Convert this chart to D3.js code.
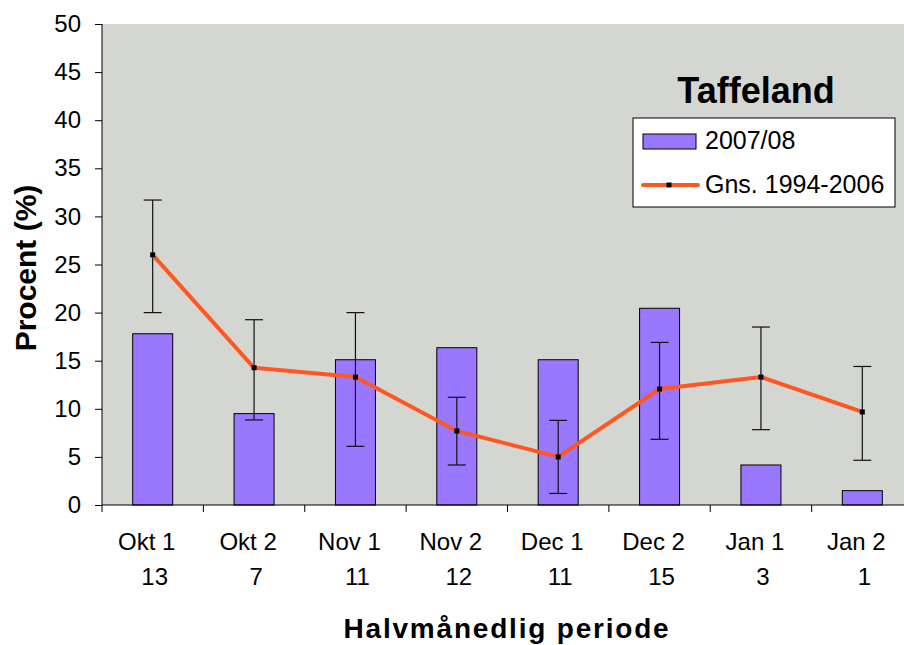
<!DOCTYPE html>
<html>
<head>
<meta charset="utf-8">
<script src="https://cdn.jsdelivr.net/npm/d3@7"></script>
<style>
  body { margin: 0; background: #fff; }
  text { font-family: "Liberation Sans", Arial, sans-serif; }
</style>
</head>
<body>
<div id="chart"></div>
<script>
// data
var periods = ["Okt 1", "Okt 2", "Nov 1", "Nov 2", "Dec 1", "Dec 2", "Jan 1", "Jan 2"];
var counts = [13, 7, 11, 12, 11, 15, 3, 1];
var season = [17.8, 9.5, 15.1, 16.35, 15.1, 20.45, 4.16, 1.49];
var avg = [26.0, 14.27, 13.3, 7.7, 5.0, 12.06, 13.3, 9.67];
var errHigh = [31.7, 19.26, 20.0, 11.2, 8.8, 16.9, 18.5, 14.4];
var errLow = [20.0, 8.84, 6.1, 4.16, 1.2, 6.83, 7.83, 4.65];
var yTicks = [0, 5, 10, 15, 20, 25, 30, 35, 40, 45, 50];

var chart_width = 904;
var chart_height = 645;
var plotL = 102, plotT = 24, plotR = 913, plotB = 505;

var svg = d3.select('#chart')
            .append('svg')
            .attr('width', chart_width)
            .attr('height', chart_height);

var x = d3.scaleBand().domain(periods).range([plotL, plotR]);
var y = d3.scaleLinear().domain([0, 50]).range([plotB, plotT]);

// plot background
svg.append('rect')
   .attr('x', plotL).attr('y', plotT)
   .attr('width', plotR - plotL).attr('height', plotB - plotT)
   .attr('fill', '#d4d6d1');

// bars
var barW = 40;
svg.selectAll('rect.bar')
   .data(season)
   .enter()
   .append('rect')
   .attr('class', 'bar')
   .attr('x', function(d, i){ return x(periods[i]) + x.bandwidth() / 2 - barW / 2; })
   .attr('y', function(d){ return y(d); })
   .attr('width', barW)
   .attr('height', function(d){ return plotB - y(d); })
   .attr('fill', '#9977ff')
   .attr('stroke', '#000')
   .attr('stroke-width', 1);

// y axis
var yAxis = svg.append('g')
   .attr('transform', 'translate(' + plotL + ',0)')
   .call(d3.axisLeft(y).tickValues(yTicks).tickSize(7).tickPadding(14));
yAxis.selectAll('text').style('font-size', '24px').attr('fill', '#000')
     .style('font-family', '"Liberation Sans", Arial, sans-serif');
yAxis.select('.domain').attr('d', 'M0,' + plotT + 'V' + plotB);

// x axis
var xAxis = svg.append('g')
   .attr('transform', 'translate(0,' + plotB + ')');
xAxis.append('line').attr('x1', plotL).attr('x2', plotR).attr('stroke', '#000');
var edges = periods.map(function(p){ return x(p); });
xAxis.selectAll('line.tick')
   .data(edges)
   .enter()
   .append('line')
   .attr('x1', function(d){ return d; })
   .attr('x2', function(d){ return d; })
   .attr('y1', 0).attr('y2', 7)
   .attr('stroke', '#000');

svg.selectAll('text.per')
   .data(periods)
   .enter()
   .append('text')
   .attr('x', function(d){ return x(d) + x.bandwidth() / 2 - 6; })
   .attr('y', 550)
   .attr('text-anchor', 'middle')
   .style('font-size', '24px')
   .text(function(d){ return d; });

svg.selectAll('text.cnt')
   .data(counts)
   .enter()
   .append('text')
   .attr('x', function(d, i){ return x(periods[i]) + x.bandwidth() / 2 + 2; })
   .attr('y', 585)
   .attr('text-anchor', 'middle')
   .style('font-size', '24px')
   .text(function(d){ return d; });

// error bars
var cx = function(i){ return x(periods[i]) + x.bandwidth() / 2; };
var eb = svg.selectAll('g.err')
   .data(avg)
   .enter()
   .append('g')
   .attr('stroke', '#111')
   .attr('stroke-width', 1.2);
eb.append('line')
  .attr('x1', function(d, i){ return cx(i); })
  .attr('x2', function(d, i){ return cx(i); })
  .attr('y1', function(d, i){ return y(errHigh[i]); })
  .attr('y2', function(d, i){ return y(errLow[i]); });
eb.append('line')
  .attr('x1', function(d, i){ return cx(i) - 9; })
  .attr('x2', function(d, i){ return cx(i) + 9; })
  .attr('y1', function(d, i){ return y(errHigh[i]); })
  .attr('y2', function(d, i){ return y(errHigh[i]); });
eb.append('line')
  .attr('x1', function(d, i){ return cx(i) - 9; })
  .attr('x2', function(d, i){ return cx(i) + 9; })
  .attr('y1', function(d, i){ return y(errLow[i]); })
  .attr('y2', function(d, i){ return y(errLow[i]); });

// average line
var line = d3.line()
   .x(function(d, i){ return cx(i); })
   .y(function(d){ return y(d); });
svg.append('path')
   .datum(avg)
   .attr('d', line)
   .attr('fill', 'none')
   .attr('stroke', '#ff5722')
   .attr('stroke-width', 4);
svg.selectAll('rect.mark')
   .data(avg)
   .enter()
   .append('rect')
   .attr('x', function(d, i){ return cx(i) - 2.5; })
   .attr('y', function(d){ return y(d) - 2.5; })
   .attr('width', 5).attr('height', 5)
   .attr('fill', '#000');

// title
svg.append('text')
   .attr('x', 756).attr('y', 103)
   .attr('text-anchor', 'middle')
   .style('font-size', '36px')
   .style('font-weight', 'bold')
   .text('Taffeland');

// legend
var lg = svg.append('g');
lg.append('rect')
  .attr('x', 633).attr('y', 118).attr('width', 262).attr('height', 89)
  .attr('fill', '#fff').attr('stroke', '#000');
lg.append('rect')
  .attr('x', 643).attr('y', 134).attr('width', 53).attr('height', 15)
  .attr('fill', '#9977ff').attr('stroke', '#000');
lg.append('text').attr('x', 705).attr('y', 149).style('font-size', '25px').text('2007/08');
lg.append('line')
  .attr('x1', 643).attr('x2', 698).attr('y1', 185).attr('y2', 185)
  .attr('stroke', '#ff5722').attr('stroke-width', 4).attr('stroke-linecap', 'round');
lg.append('rect').attr('x', 666.5).attr('y', 182.5).attr('width', 5).attr('height', 5).attr('fill', '#000');
lg.append('text').attr('x', 705).attr('y', 193).style('font-size', '25px').text('Gns. 1994-2006');

// axis titles
svg.append('text')
   .attr('transform', 'translate(36,268) rotate(-90)')
   .attr('text-anchor', 'middle')
   .style('font-size', '30px')
   .style('font-weight', 'bold')
   .text('Procent (%)');

svg.append('text')
   .attr('x', 507).attr('y', 638)
   .attr('text-anchor', 'middle')
   .style('font-size', '28px')
   .style('font-weight', 'bold')
   .style('letter-spacing', '1.8px')
   .text('Halvmånedlig periode');
</script>
</body>
</html>
